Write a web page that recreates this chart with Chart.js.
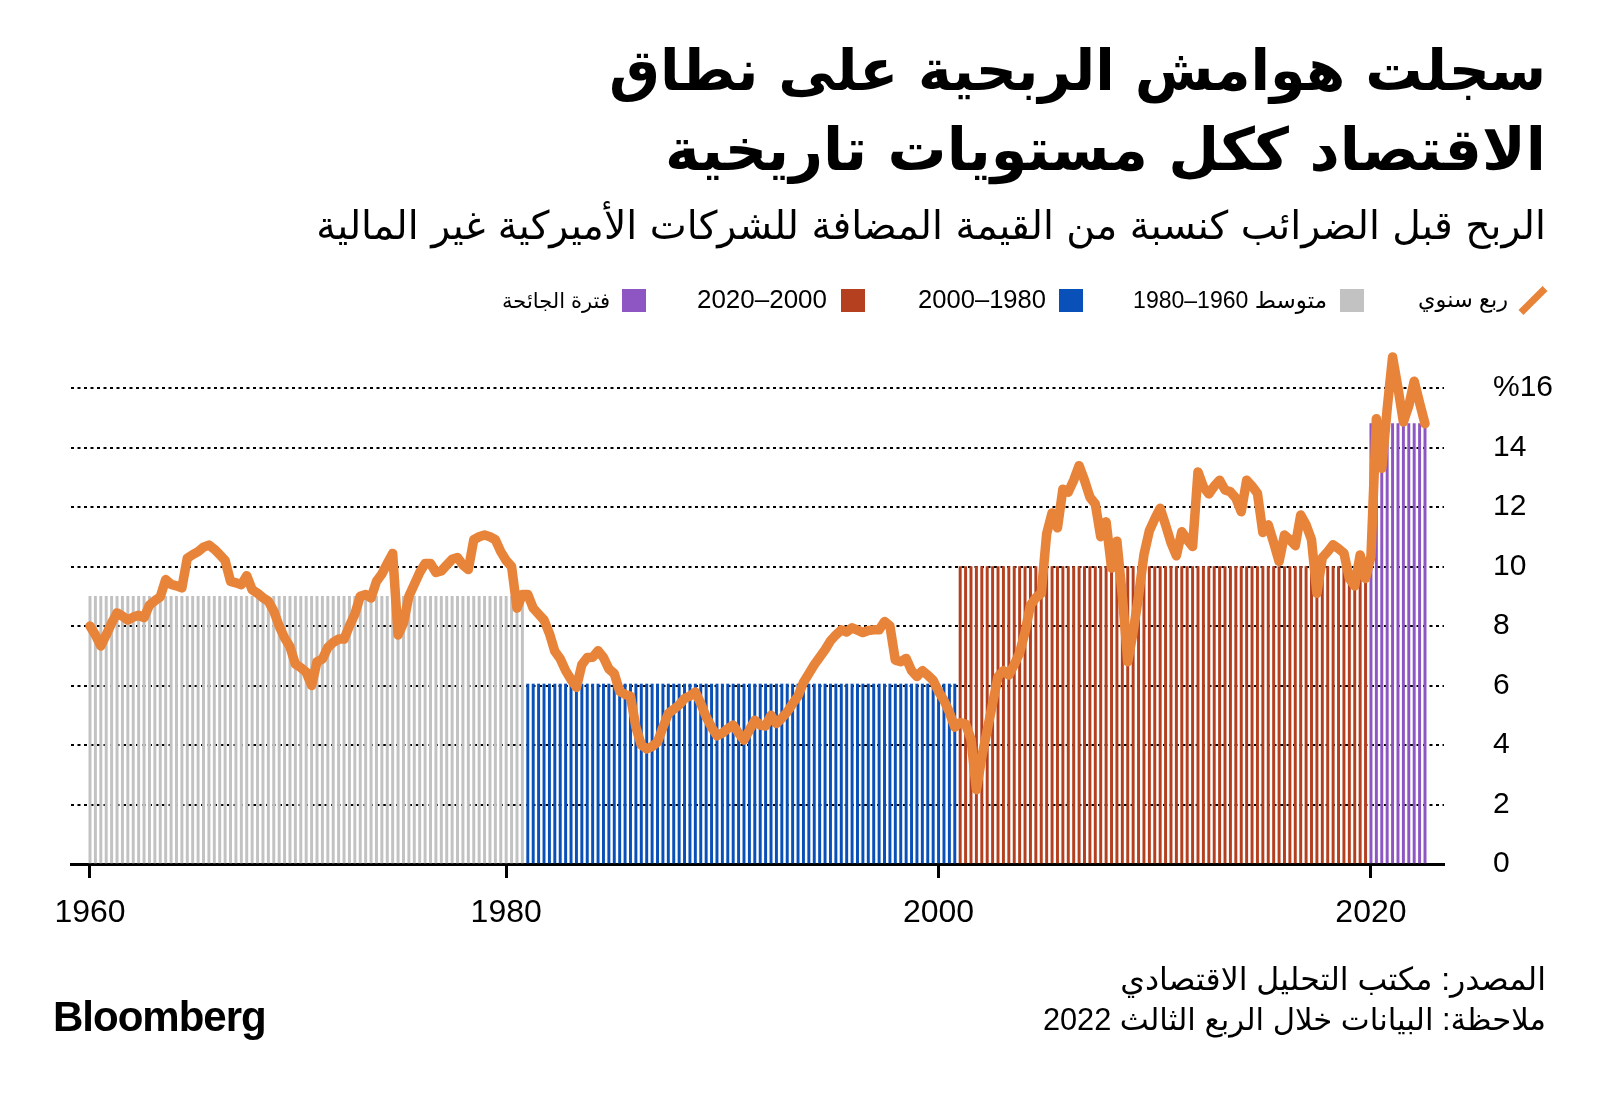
<!DOCTYPE html>
<html lang="ar">
<head>
<meta charset="utf-8">
<script src="https://cdn.jsdelivr.net/npm/chart.js@4.4.1/dist/chart.umd.min.js"></script>
<style>
  html, body { margin: 0; padding: 0; background: #fff; }
  #page { position: relative; width: 1600px; height: 1096px; overflow: hidden; background: #fff; }
  #chart { position: absolute; left: 0; top: 0; }
  .txt { position: absolute; white-space: nowrap; line-height: 1; color: #000;
         font-family: "Liberation Sans", "DejaVu Sans", sans-serif; }
  .ar { direction: rtl; font-family: "DejaVu Sans", sans-serif; }
  .mix { direction: rtl; }
  .sq { position: absolute; width: 24px; height: 23px; top: 289px; }
  #lineKey { position: absolute; left: 1516px; top: 297px; width: 34px; height: 7px;
             background: #E8833A; transform: rotate(-45deg); }
</style>
</head>
<body>
<div id="page">
  <canvas id="chart" width="1600" height="1096"></canvas>

  <div class="txt ar" id="title1" style="font-weight:bold">سجلت هوامش الربحية على نطاق</div>
  <div class="txt ar" id="title2" style="font-weight:bold">الاقتصاد ككل مستويات تاريخية</div>
  <div class="txt ar" id="subtitle">الربح قبل الضرائب كنسبة من القيمة المضافة للشركات الأميركية غير المالية</div>

  <div id="lineKey"></div>
  <div class="txt mix" id="key0">ربع سنوي</div>
  <div class="sq" style="left:1340px; background:#C2C2C2"></div>
  <div class="txt mix" id="key1"></div>
  <div class="sq" style="left:1059px; background:#0A50B9"></div>
  <div class="txt mix" id="key2"></div>
  <div class="sq" style="left:841px; background:#B4401F"></div>
  <div class="txt mix" id="key3"></div>
  <div class="sq" style="left:622px; background:#8E56C2"></div>
  <div class="txt mix" id="key4"></div>

  <div class="txt mix" id="source">المصدر: مكتب التحليل الاقتصادي</div>
  <div class="txt mix" id="note">ملاحظة: البيانات خلال الربع الثالث 2022</div>
  <div class="txt" id="logo" style="font-weight:bold; letter-spacing:-1px">Bloomberg</div>
</div>

<script>
// quarters from 1960Q4 to 2022Q3
const quarters = [];
for (let y = 1960; y <= 2022; y++) {
  for (let q = 1; q <= 4; q++) {
    if (y === 1960 && q < 4) continue;
    if (y === 2022 && q > 3) continue;
    quarters.push(y + 'Q' + q);
  }
}

// pretax profit as % of value added, nonfinancial corporations
const margin = [
  8.0, 7.7, 7.33, 7.7, 8.1, 8.44, 8.33, 8.2, 8.3, 8.36,
  8.28, 8.7, 8.85, 8.98, 9.56, 9.4, 9.35, 9.28, 10.28, 10.4,
  10.5, 10.65, 10.72, 10.58, 10.4, 10.2, 9.5, 9.45, 9.39, 9.69,
  9.22, 9.1, 8.95, 8.83, 8.5, 8.0, 7.6, 7.3, 6.72, 6.6,
  6.45, 6.0, 6.8, 6.89, 7.28, 7.45, 7.56, 7.56, 8.0, 8.4,
  9.0, 9.06, 8.94, 9.5, 9.75, 10.1, 10.44, 7.7, 8.1, 9.0,
  9.4, 9.8, 10.1, 10.1, 9.8, 9.85, 10.05, 10.24, 10.3, 10.05,
  9.9, 10.9, 11.0, 11.06, 11.0, 10.9, 10.5, 10.2, 10.0, 8.6,
  9.06, 9.06, 8.6, 8.4, 8.2, 7.75, 7.15, 6.9, 6.5, 6.2,
  5.94, 6.7, 6.94, 6.95, 7.17, 6.94, 6.56, 6.4, 5.8, 5.7,
  5.64, 4.6, 4.0, 3.87, 3.95, 4.1, 4.6, 5.06, 5.2, 5.35,
  5.56, 5.65, 5.78, 5.4, 4.95, 4.6, 4.31, 4.4, 4.55, 4.67,
  4.4, 4.17, 4.5, 4.83, 4.67, 4.64, 5.0, 4.72, 4.9, 5.11,
  5.39, 5.65, 6.1, 6.4, 6.7, 6.95, 7.2, 7.5, 7.7, 7.87,
  7.8, 7.94, 7.86, 7.78, 7.85, 7.87, 7.87, 8.15, 8.0, 6.85,
  6.8, 6.91, 6.5, 6.3, 6.5, 6.35, 6.17, 5.8, 5.5, 5.1,
  4.6, 4.75, 4.7, 4.2, 2.5, 3.6, 4.5, 5.4, 6.3, 6.5,
  6.35, 6.7, 7.1, 7.8, 8.7, 8.95, 9.1, 11.1, 11.8, 11.3,
  12.6, 12.5, 12.9, 13.39, 12.9, 12.33, 12.1, 11.0, 11.5, 9.95,
  10.85, 9.0, 6.8, 7.8, 9.0, 10.4, 11.2, 11.6, 11.96, 11.4,
  10.8, 10.36, 11.17, 10.9, 10.67, 13.18, 12.68, 12.44, 12.7, 12.9,
  12.57, 12.51, 12.3, 11.84, 12.9, 12.7, 12.46, 11.14, 11.4, 10.8,
  10.17, 11.06, 10.9, 10.7, 11.73, 11.4, 10.9, 9.1, 10.3, 10.5,
  10.73, 10.6, 10.45, 9.6, 9.35, 10.39, 9.6, 10.34, 14.97, 13.3,
  15.3, 17.04, 16.0, 14.86, 15.4, 16.23, 15.5, 14.8
];

// period averages
const periodNames = ['متوسط 1960–1980', '1980–2000', '2000–2020', 'فترة الجائحة'];
const periodFirst = ['1960Q4', '1981Q1', '2001Q1', '2020Q1'];
const periodLast = ['1980Q4', '2000Q4', '2019Q4', '2022Q3'];
const periodAvg = [9.0, 6.05, 10.0, 14.8];
const periodColors = ['#C2C2C2', '#0A50B9', '#B4401F', '#8E56C2'];

const lineName = 'ربع سنوي';
const xTickQuarters = ['1960Q4', '1980Q1', '2000Q1', '2020Q1'];
const xTickLabels = ['1960', '1980', '2000', '2020'];
const yTickLabels = ['0', '2', '4', '6', '8', '10', '12', '14', '%16'];

// bar for each quarter at the average of its period
const barPoints = [];
const barColors = [];
for (let p = 0; p < periodNames.length; p++) {
  const a = quarters.indexOf(periodFirst[p]);
  const b = quarters.indexOf(periodLast[p]);
  for (let i = a; i <= b; i++) {
    barPoints.push({ x: i, y: periodAvg[p] });
    barColors.push(periodColors[p]);
  }
}

const linePoints = margin.map((v, i) => ({ x: i, y: v }));

const ctx = document.getElementById('chart');

new Chart(ctx, {
  data: {
    datasets: [
      {
        type: 'line',
        label: lineName,
        data: linePoints,
        borderColor: '#E8833A',
        borderWidth: 9.5,
        borderJoinStyle: 'round',
        borderCapStyle: 'round',
        pointRadius: 0,
        tension: 0,
        clip: false,
        order: 0
      },
      {
        type: 'bar',
        label: 'avg',
        data: barPoints,
        backgroundColor: barColors,
        barThickness: 2.3,
        order: 1
      }
    ]
  },
  options: {
    responsive: false,
    animation: false,
    layout: {
      padding: { left: 71, top: 388, right: 0, bottom: 172 }
    },
    plugins: {
      legend: { display: false },
      tooltip: { enabled: false }
    },
    scales: {
      x: {
        type: 'linear',
        min: -3.515,
        max: 250.515,
        offset: false,
        z: 1,
        afterFit: s => { s.height = 60 },
        afterBuildTicks: s => {
          s.ticks = xTickQuarters.map(q => ({ value: quarters.indexOf(q) }))
        },
        grid: {
          offset: false,
          drawOnChartArea: false,
          drawTicks: true,
          tickLength: 14,
          tickWidth: 3,
          tickColor: '#000'
        },
        border: { display: true, color: '#000', width: 3 },
        ticks: {
          autoSkip: false,
          maxRotation: 0,
          padding: 16,
          color: '#000',
          font: { family: 'Liberation Sans', size: 32 },
          callback: v => xTickLabels[xTickQuarters.indexOf(quarters[v])]
        }
      },
      y: {
        position: 'right',
        min: 0,
        max: 16,
        afterFit: s => { s.width = 156 },
        grid: {
          color: '#000',
          lineWidth: 2,
          drawTicks: false
        },
        border: { display: false, dash: [3, 3.5] },
        ticks: {
          stepSize: 2,
          padding: 49,
          color: '#000',
          font: { family: 'Liberation Sans', size: 30 },
          callback: v => yTickLabels[v / 2]
        }
      }
    }
  }
});

// text blocks: right edge, vertical centre, target width
for (let p = 0; p < periodNames.length; p++) {
  document.getElementById('key' + (p + 1)).textContent = periodNames[p];
}

function place(id, edge, cy, w, fromLeft) {
  const el = document.getElementById(id);
  el.style.fontSize = '100px';
  const s = 100 * w / el.getBoundingClientRect().width;
  el.style.fontSize = s.toFixed(2) + 'px';
  el.style.top = (cy - 0.5 * s).toFixed(1) + 'px';
  if (fromLeft) el.style.left = edge + 'px';
  else el.style.right = (1600 - edge) + 'px';
}

place('title1', 1546, 70, 937);
place('title2', 1546, 150, 881);
place('subtitle', 1546, 226, 1230);
place('key0', 1508, 300, 90);
place('key1', 1327, 300, 194);
place('key2', 1046, 300, 128);
place('key3', 827, 300, 130);
place('key4', 610, 300, 108);
place('source', 1546, 980, 426);
place('note', 1546, 1020, 503);
place('logo', 53, 1017, 218, true);
</script>
</body>
</html>
